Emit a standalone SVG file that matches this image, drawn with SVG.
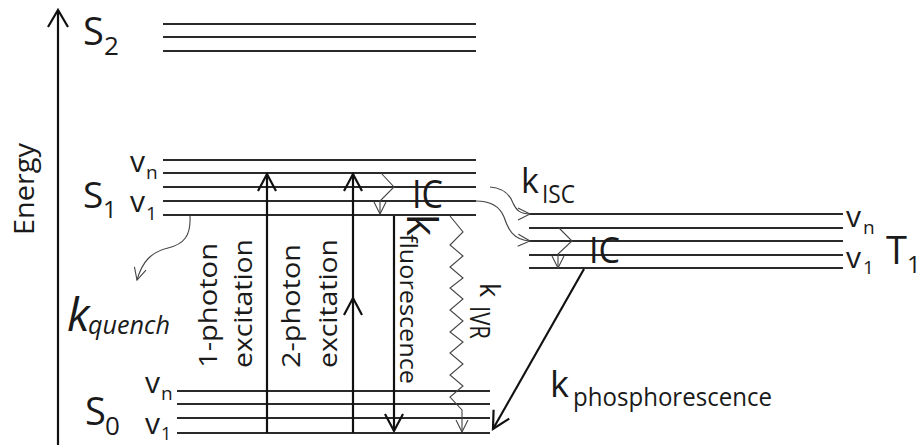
<svg xmlns="http://www.w3.org/2000/svg" width="923" height="445" viewBox="0 0 923 445">
  <style>
    .lvl { stroke: #2a2a2a; stroke-width: 2; fill: none; }
    .t { font-family: "Open Sans", "Liberation Sans", sans-serif; fill: #1a1a1a; }
    .arr { stroke: #111; stroke-width: 2.2; fill: none; }
    .thin { stroke: #444; stroke-width: 1.1; fill: none; }
  </style>
  <defs>
    <marker id="head" markerUnits="userSpaceOnUse" markerWidth="22" markerHeight="22" refX="17" refY="9" orient="auto" overflow="visible">
      <path d="M0,0 L17,9 L0,18" fill="none" stroke="#111" stroke-width="2.2"/>
    </marker>
    <marker id="headThin" markerUnits="userSpaceOnUse" markerWidth="16" markerHeight="16" refX="12" refY="6" orient="auto" overflow="visible">
      <path d="M0,0 L12,6 L0,12" fill="none" stroke="#444" stroke-width="1.1"/>
    </marker>
  </defs>

  <rect width="923" height="445" fill="#fff"/>

  <!-- energy axis -->
  <g id="energy-axis">
    <line x1="58" y1="445" x2="58" y2="11" class="arr"/>
    <path d="M48,27 L58,10 L68,27" class="arr"/>
    <text class="t" font-size="28" textLength="92" lengthAdjust="spacingAndGlyphs" transform="translate(34,235) rotate(-90)">Energy</text>
  </g>

  <!-- S2 manifold -->
  <g id="S2">
    <line x1="163" y1="24" x2="476" y2="24" class="lvl"/>
    <line x1="163" y1="37" x2="476" y2="37" class="lvl"/>
    <line x1="163" y1="51" x2="476" y2="51" class="lvl"/>
    <text class="t" x="83" y="45" font-size="38">S</text>
    <text class="t" x="104" y="55" font-size="26">2</text>
  </g>

  <!-- S1 manifold -->
  <g id="S1">
    <line x1="163" y1="160" x2="476" y2="160" class="lvl"/>
    <line x1="163" y1="173" x2="476" y2="173" class="lvl"/>
    <line x1="163" y1="187" x2="476" y2="187" class="lvl"/>
    <line x1="163" y1="201" x2="476" y2="201" class="lvl"/>
    <line x1="163" y1="215" x2="476" y2="215" class="lvl"/>
    <text class="t" x="83" y="208" font-size="37">S</text>
    <text class="t" x="103" y="218" font-size="24">1</text>
    <text class="t" x="130" y="172" font-size="30">v</text>
    <text class="t" x="146" y="179" font-size="19">n</text>
    <text class="t" x="130" y="212" font-size="30">v</text>
    <text class="t" x="146" y="220" font-size="19">1</text>
  </g>

  <!-- S0 manifold -->
  <g id="S0">
    <line x1="177" y1="391" x2="490" y2="391" class="lvl"/>
    <line x1="177" y1="404" x2="490" y2="404" class="lvl"/>
    <line x1="177" y1="418" x2="490" y2="418" class="lvl"/>
    <line x1="177" y1="433" x2="490" y2="433" class="lvl"/>
    <text class="t" x="85" y="425" font-size="38">S</text>
    <text class="t" x="105" y="435" font-size="26">0</text>
    <text class="t" x="145" y="393" font-size="30">v</text>
    <text class="t" x="161" y="400" font-size="19">n</text>
    <text class="t" x="145" y="434" font-size="30">v</text>
    <text class="t" x="161" y="440" font-size="18">1</text>
  </g>

  <!-- T1 manifold -->
  <g id="T1">
    <line x1="529" y1="214" x2="843" y2="214" class="lvl"/>
    <line x1="529" y1="228" x2="843" y2="228" class="lvl"/>
    <line x1="529" y1="241" x2="843" y2="241" class="lvl"/>
    <line x1="529" y1="255" x2="843" y2="255" class="lvl"/>
    <line x1="529" y1="268" x2="843" y2="268" class="lvl"/>
    <text class="t" x="846" y="227" font-size="30">v</text>
    <text class="t" x="863" y="234" font-size="19">n</text>
    <text class="t" x="846" y="268" font-size="30">v</text>
    <text class="t" x="863" y="274" font-size="19">1</text>
    <text class="t" x="886" y="264" font-size="38">T</text>
    <text class="t" x="907" y="273" font-size="24">1</text>
  </g>

  <!-- transitions -->
  <g id="connectors">
    <!-- one-photon absorption -->
    <path d="M267,433 L267,174" class="arr" marker-end="url(#head)"/>
    <!-- two-photon absorption (two stacked arrows) -->
    <path d="M353,433 L353,298" class="arr" marker-end="url(#head)"/>
    <path d="M353,298 L353,174" class="arr" marker-end="url(#head)"/>
    <!-- fluorescence -->
    <path d="M394,216 L394,431" class="arr" marker-end="url(#head)"/>
    <!-- phosphorescence -->
    <path d="M584,269 L493,429" class="arr" marker-end="url(#head)"/>
    <!-- internal conversion in S1 -->
    <path d="M381,173 L394,187 L380,201 L380,214" class="thin" marker-end="url(#headThin)"/>
    <!-- internal conversion in T1 -->
    <path d="M559,228 L572,241 L558,254 L558,268" class="thin" marker-end="url(#headThin)"/>
    <!-- vibrational relaxation zig-zag -->
    <path d="M450,216 L463,232 L450,245 L463,256 L450,267 L463,278 L450,288 L463,299 L450,310 L463,321 L450,332 L463,342 L450,353 L463,364 L450,375 L463,386 L450,397 L462,410 L462,432" class="thin" marker-end="url(#headThin)"/>
    <!-- intersystem crossing -->
    <path d="M490,187 C504,188 510,195 513,203 C516,210 520,214 530,214" class="thin" marker-end="url(#headThin)"/>
    <path d="M476,201 C492,201 500,207 504,217 C508,229 513,240 530,241" class="thin" marker-end="url(#headThin)"/>
    <!-- quenching -->
    <path d="M190,216 C191,236 184,244 168,248 C151,252 142,262 137,280" class="thin" marker-end="url(#headThin)"/>
  </g>

  <!-- rate and process labels -->
  <g id="labels">
    <text class="t" font-size="38" x="412" y="208" textLength="31" lengthAdjust="spacingAndGlyphs">IC</text>
    <text class="t" font-size="37" x="589" y="263" textLength="31" lengthAdjust="spacingAndGlyphs">IC</text>

    <text class="t" x="521" y="193" font-size="34">k</text>
    <text class="t" x="542" y="203" font-size="25" textLength="33" lengthAdjust="spacingAndGlyphs">ISC</text>

    <text class="t" font-size="25" textLength="125" lengthAdjust="spacingAndGlyphs" transform="translate(217,368) rotate(-90)">1-photon</text>
    <text class="t" font-size="25" textLength="129" lengthAdjust="spacingAndGlyphs" transform="translate(252,368) rotate(-90)">excitation</text>
    <text class="t" font-size="25" textLength="124" lengthAdjust="spacingAndGlyphs" transform="translate(300,368) rotate(-90)">2-photon</text>
    <text class="t" font-size="25" textLength="129" lengthAdjust="spacingAndGlyphs" transform="translate(337,368) rotate(-90)">excitation</text>

    <text class="t" font-size="42" transform="translate(407,214) rotate(90)">k</text>
    <text class="t" font-size="24" textLength="150" lengthAdjust="spacingAndGlyphs" transform="translate(400,234) rotate(90)">fluorescence</text>

    <text class="t" font-size="27" transform="translate(480,283) rotate(90)">k</text>
    <text class="t" font-size="27" textLength="33" lengthAdjust="spacingAndGlyphs" transform="translate(470,306) rotate(90)">IVR</text>

    <text class="t" x="67" y="331" font-size="46" font-style="italic">k</text>
    <text class="t" x="88" y="334" font-size="26" font-style="italic" textLength="82" lengthAdjust="spacingAndGlyphs">quench</text>

    <text class="t" x="550" y="397" font-size="36">k</text>
    <text class="t" x="573" y="406" font-size="25" textLength="199" lengthAdjust="spacingAndGlyphs">phosphorescence</text>
  </g>
</svg>
